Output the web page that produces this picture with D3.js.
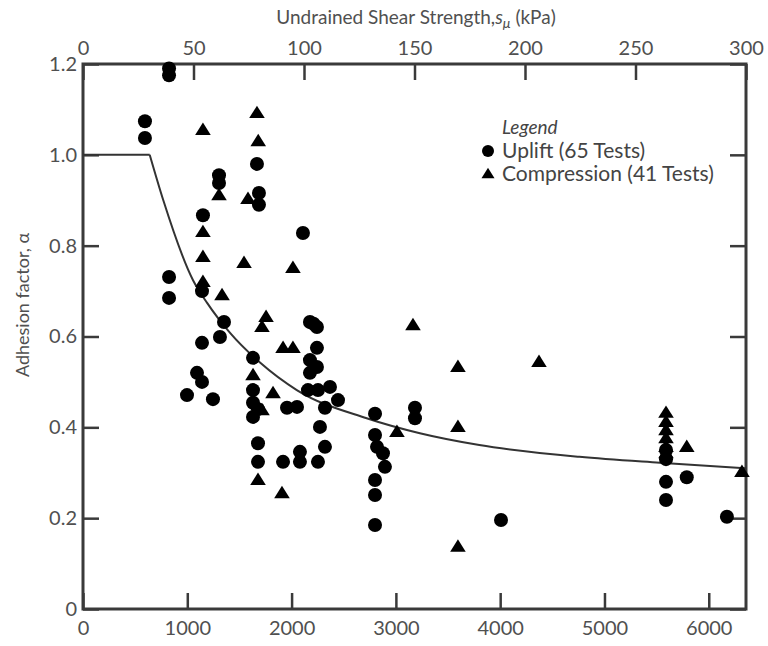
<!DOCTYPE html>
<html>
<head>
<meta charset="utf-8">
<script src="https://cdn.jsdelivr.net/npm/d3@7"></script>
<style>
  html, body { margin: 0; padding: 0; background: #fff; }
  svg { display: block; }
  text { font-family: Lato, "Open Sans", sans-serif; }
</style>
</head>
<body>
<svg id="chart" width="768" height="646"></svg>
<script>
// ---------- data (x in psf, alpha) ----------
const upliftX = [825, 825, 594, 594, 1668, 1304, 1304, 1687, 1687, 2109, 1150, 825, 825, 1141,
  1352, 1313, 1141, 1093, 1141, 997, 1246, 1630, 1630, 1630, 1630, 1956, 2052, 1678, 1678,
  1918, 2080, 2080, 2176, 2243, 2210, 2243, 2176, 2243, 2176, 2157, 2253, 2368, 2445, 2320,
  2272, 2320, 2253, 2800, 2800, 2819, 2876, 2895, 2800, 2800, 2800, 3183, 3183, 4008, 5590,
  5590, 5590, 5590, 5789, 6174, 1678];
const upliftA = [1.19, 1.175, 1.074, 1.037, 0.98, 0.955, 0.938, 0.916, 0.89, 0.828, 0.867, 0.731, 0.685, 0.70,
  0.632, 0.599, 0.586, 0.52, 0.50, 0.471, 0.462, 0.553, 0.482, 0.454, 0.423, 0.443, 0.445, 0.365, 0.324,
  0.324, 0.346, 0.324, 0.632, 0.621, 0.628, 0.575, 0.548, 0.533, 0.52, 0.482, 0.482, 0.489, 0.46, 0.443,
  0.401, 0.357, 0.324, 0.43, 0.383, 0.357, 0.343, 0.313, 0.284, 0.251, 0.185, 0.443, 0.42, 0.196, 0.35,
  0.33, 0.28, 0.24, 0.29, 0.203, 0.44];

const compX = [1150, 1668, 1680, 1304, 1582, 1150, 1150, 1544, 2013, 1150, 1333, 1755, 1716, 1630,
  1822, 1716, 1678, 1908, 1918, 2013, 3010, 3164, 3595, 4372, 3595, 3595,
  5590, 5590, 5590, 5590, 5590, 5590, 5789, 6318];
const compA = [1.055, 1.092, 1.03, 0.911, 0.903, 0.83, 0.775, 0.762, 0.751, 0.72, 0.691, 0.643, 0.621, 0.515,
  0.475, 0.438, 0.284, 0.255, 0.575, 0.575, 0.39, 0.625, 0.533, 0.544, 0.401, 0.137,
  0.432, 0.412, 0.394, 0.376, 0.357, 0.343, 0.357, 0.302];

// trend curve
const curveX = [0, 640, 770, 1055, 1190, 1410, 1700, 2050, 2720, 3230, 3800, 4760, 5530, 6357];
const curveA = [1.0, 1.0, 0.90, 0.724, 0.674, 0.608, 0.542, 0.482, 0.42, 0.387, 0.361, 0.335, 0.322, 0.31];

const bottomTicks = [0, 1000, 2000, 3000, 4000, 5000, 6000];
const topTicks = [0, 50, 100, 150, 200, 250, 300];
const yTicks = [0, 0.2, 0.4, 0.6, 0.8, 1.0, 1.2];

const titleTop = "Undrained Shear Strength,";
const yLabel = "Adhesion factor, α";
const legendTitle = "Legend";
const legendItems = ["Uplift (65 Tests)", "Compression (41 Tests)"];

// ---------- layout ----------
const L = 83, R = 746, T = 64, B = 609;
const svg = d3.select("#chart");
const x = d3.scaleLinear().domain([0, 6357]).range([L, R]);
const xTop = d3.scaleLinear().domain([0, 300]).range([L, R]);
const y = d3.scaleLinear().domain([0, 1.2]).range([B, T]);

const axisColor = "#3a3a3a", labelColor = "#505050";

function styleAxis(g) {
  g.select(".domain").remove();
  g.selectAll(".tick line").attr("stroke", axisColor).attr("stroke-width", 2.5);
  g.selectAll(".tick text").attr("fill", labelColor).attr("font-size", 20).attr("font-family", "Lato, sans-serif");
}

svg.append("g").attr("transform", `translate(0,${B})`)
  .call(d3.axisBottom(x).tickValues(bottomTicks).tickSize(-16).tickSizeOuter(0).tickPadding(12).tickFormat(d3.format("d")))
  .call(styleAxis);
svg.append("g").attr("transform", `translate(0,${T})`)
  .call(d3.axisTop(xTop).tickValues(topTicks).tickSize(-16).tickSizeOuter(0).tickPadding(9).tickFormat(d3.format("d")))
  .call(styleAxis);
svg.append("g").attr("transform", `translate(${L},0)`)
  .call(d3.axisLeft(y).tickValues(yTicks).tickSize(-16).tickSizeOuter(0).tickPadding(6).tickFormat(d => d === 0 ? "0" : d3.format(".1f")(d)))
  .call(styleAxis);
svg.append("g").attr("transform", `translate(${R},0)`)
  .call(d3.axisRight(y).tickValues(yTicks).tickSize(-16).tickSizeOuter(0).tickFormat(""))
  .call(styleAxis);

svg.append("rect").attr("x", L).attr("y", T).attr("width", R - L).attr("height", B - T)
  .attr("fill", "none").attr("stroke", axisColor).attr("stroke-width", 3);

// titles
const tt = svg.append("text").attr("x", 416).attr("y", 24).attr("text-anchor", "middle")
  .attr("fill", labelColor).attr("font-size", 19);
tt.append("tspan").text(titleTop);
tt.append("tspan").attr("font-style", "italic").text("s");
tt.append("tspan").attr("font-style", "italic").attr("font-size", 14).attr("dy", 4).text("μ");
tt.append("tspan").attr("dy", -4).text(" (kPa)");

svg.append("text").attr("transform", "translate(29,305) rotate(-90)").attr("text-anchor", "middle")
  .attr("fill", labelColor).attr("font-size", 18).text(yLabel);

// curve
const pts = curveX.map((v, i) => [v, curveA[i]]);
const flat = pts.filter(p => p[0] <= 640);
const fall = pts.filter(p => p[0] >= 640);
svg.append("path").attr("d", d3.line().x(d => x(d[0])).y(d => y(d[1]))(flat))
  .attr("fill", "none").attr("stroke", "#333").attr("stroke-width", 2);
svg.append("path").attr("d", d3.line().x(d => x(d[0])).y(d => y(d[1])).curve(d3.curveMonotoneX)(fall))
  .attr("fill", "none").attr("stroke", "#333").attr("stroke-width", 2);

// markers
const tri = (s) => `M0,${-s * 0.95}L${s},${s * 0.65}L${-s},${s * 0.65}Z`;
svg.append("g").selectAll("path").data(compX.map((v, i) => [v, compA[i]])).join("path")
  .attr("transform", d => `translate(${x(d[0])},${y(d[1])})`)
  .attr("d", tri(7.8)).attr("fill", "#000");
svg.append("g").selectAll("circle").data(upliftX.map((v, i) => [v, upliftA[i]])).join("circle")
  .attr("cx", d => x(d[0])).attr("cy", d => y(d[1])).attr("r", 7).attr("fill", "#000");

// legend
svg.append("text").attr("x", 502).attr("y", 134).attr("font-style", "italic").attr("fill", "#444")
  .attr("font-size", 19).text(legendTitle);
svg.append("circle").attr("cx", 488).attr("cy", 151).attr("r", 6).attr("fill", "#000");
svg.append("path").attr("transform", "translate(488,174)").attr("d", tri(6.5)).attr("fill", "#000");
svg.append("text").attr("x", 502).attr("y", 158).attr("fill", "#444").attr("font-size", 21).text(legendItems[0]);
svg.append("text").attr("x", 502).attr("y", 181).attr("fill", "#444").attr("font-size", 21).text(legendItems[1]);
</script>
</body>
</html>
